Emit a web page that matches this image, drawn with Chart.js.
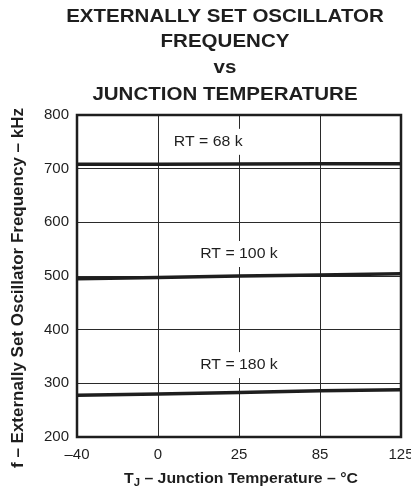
<!DOCTYPE html>
<html><head><meta charset="utf-8">
<script src="https://cdn.jsdelivr.net/npm/chart.js@4/dist/chart.umd.min.js"></script>
<style>html,body{margin:0;padding:0;background:#fff;}#wrap{width:411px;height:489px;}</style>
</head><body><div id="wrap"><canvas id="c" width="411" height="489"></canvas></div>
<script>
// ---- data ----
const temperatures = ['\u201340', '0', '25', '85', '125'];
const rt68k  = [708, 708, 708.5, 709, 709];
const rt100k = [495, 497, 500, 502, 504];
const rt180k = [278, 280, 283, 286, 288];
const seriesNames = ['RT = 68 k', 'RT = 100 k', 'RT = 180 k'];
const titleLines = ['EXTERNALLY SET OSCILLATOR', 'FREQUENCY', 'vs', 'JUNCTION TEMPERATURE'];
const yTitle = 'f \u2013 Externally Set Oscillator Frequency \u2013 kHz';
const yMin = 200, yMax = 800, yStep = 100;

// label anchors (in data units: category index, kHz)
const seriesLabelAnchors = [[1.62, 750], [2, 541], [2, 334]];

const FONT = '"Liberation Sans", Arial, Helvetica, sans-serif';
const INK = '#1e1e1e';
const SX = 1.13;

function stretchedText(ctx, text, x, y, font, sx, align) {
  ctx.save();
  ctx.font = font;
  ctx.translate(x, y);
  ctx.scale(sx, 1);
  ctx.textAlign = align || 'center';
  ctx.fillText(text, 0, 0);
  ctx.restore();
}

const decor = {
  id: 'decor',
  afterDatasetsDraw(chart) {
    const ctx = chart.ctx;
    const xs = chart.scales.x, ys = chart.scales.y;
    ctx.save();
    ctx.fillStyle = INK;
    ctx.textBaseline = 'middle';
    seriesNames.forEach((name, i) => {
      const px = xs.getPixelForValue(seriesLabelAnchors[i][0]);
      const py = ys.getPixelForValue(seriesLabelAnchors[i][1]);
      ctx.font = '14px ' + FONT;
      const w = ctx.measureText(name).width * SX;
      ctx.fillStyle = '#ffffff';
      ctx.fillRect(px - w / 2 - 3, py - 13, w + 6, 26);
      ctx.fillStyle = INK;
      stretchedText(ctx, name, px, py, '14px ' + FONT, SX, 'center');
    });
    ctx.restore();
    // frame
    const a = chart.chartArea;
    ctx.save();
    ctx.strokeStyle = INK;
    ctx.lineWidth = 2.5;
    ctx.strokeRect(a.left, a.top, a.right - a.left, a.bottom - a.top);
    ctx.restore();
  },
  afterDraw(chart) {
    const ctx = chart.ctx;
    const a = chart.chartArea;
    ctx.save();
    ctx.fillStyle = INK;
    ctx.textBaseline = 'alphabetic';
    const baselines = [21.7, 46.7, 73, 100];
    titleLines.forEach((t, i) => stretchedText(ctx, t, 225, baselines[i], 'bold 18px ' + FONT, 1.14, 'center'));

    // x axis title with subscript J
    const big = 'bold 14px ' + FONT, small = 'bold 10px ' + FONT;
    const rest = ' \u2013 Junction Temperature \u2013 \u00B0C';
    ctx.font = big; const wT = ctx.measureText('T').width; const wR = ctx.measureText(rest).width;
    ctx.font = small; const wJ = ctx.measureText('J').width;
    const total = (wT + wJ + wR) * SX;
    const cx = (a.left + a.right) / 2 + 2;
    let x0 = cx - total / 2;
    const by = 483;
    ctx.save();
    ctx.translate(x0, by);
    ctx.scale(SX, 1);
    ctx.textAlign = 'left';
    ctx.font = big; ctx.fillText('T', 0, 0);
    ctx.font = small; ctx.fillText('J', wT, 3);
    ctx.font = big; ctx.fillText(rest, wT + wJ, 0);
    ctx.restore();

    // y axis title
    ctx.save();
    ctx.translate(18, 288);
    ctx.rotate(-Math.PI / 2);
    ctx.font = 'bold 17px ' + FONT;
    ctx.textAlign = 'center';
    ctx.textBaseline = 'middle';
    ctx.fillText(yTitle, 0, 0);
    ctx.restore();
    ctx.restore();
  }
};

const lineStyle = { borderColor: INK, borderWidth: 3.5, pointRadius: 0, fill: false, tension: 0 };

new Chart(document.getElementById('c'), {
  type: 'line',
  data: {
    labels: temperatures,
    datasets: [
      Object.assign({ label: seriesNames[0], data: rt68k }, lineStyle),
      Object.assign({ label: seriesNames[1], data: rt100k }, lineStyle),
      Object.assign({ label: seriesNames[2], data: rt180k }, lineStyle)
    ]
  },
  options: {
    responsive: false,
    animation: false,
    events: [],
    layout: { padding: { left: 0, right: 10, top: 115, bottom: 0 } },
    plugins: { legend: { display: false }, title: { display: false }, tooltip: { enabled: false } },
    scales: {
      x: {
        type: 'category',
        offset: false,
        grid: { color: '#2a2a2a', lineWidth: 1, drawTicks: false, offset: false },
        border: { display: false },
        ticks: { color: INK, font: { family: FONT, size: 15 }, padding: 9, maxRotation: 0, autoSkip: false },
        afterFit(s) { s.height = 52; s.paddingLeft = 0; s.paddingRight = 0; }
      },
      y: {
        min: yMin, max: yMax,
        grid: { color: '#2a2a2a', lineWidth: 1, drawTicks: false },
        border: { display: false },
        ticks: { stepSize: yStep, color: INK, font: { family: FONT, size: 15 }, padding: 8 },
        afterFit(s) { s.width = 77; }
      }
    }
  },
  plugins: [decor]
});
</script>
</body></html>
